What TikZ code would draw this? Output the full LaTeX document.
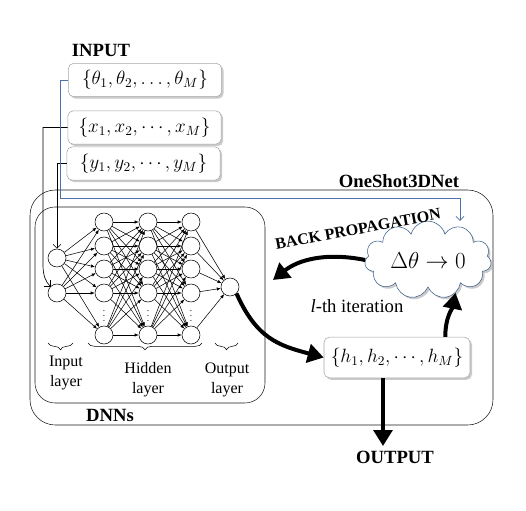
\documentclass[tikz,border=0pt]{standalone}
\usepackage{fontspec}
\setmainfont{Liberation Serif}
\usetikzlibrary{arrows.meta,shapes.symbols,shadows,decorations.pathreplacing,calc}
\definecolor{lineblue}{HTML}{4F6FA8}
\definecolor{cloudblue}{HTML}{385D8A}

\begin{document}
\begin{tikzpicture}[x=0.75pt,y=-0.75pt,
    inbox/.style={draw=gray!70,rounded corners=4pt,fill=white,minimum width=115pt,minimum height=25pt,
        drop shadow={shadow xshift=1.5pt,shadow yshift=-1.5pt,fill=gray!70,opacity=0.6},
        font=\fontsize{14.5}{16}\selectfont},
    neuron/.style={circle,draw,fill=white,minimum size=13.5pt,inner sep=0pt},
    nnarrow/.style={-{Latex[length=3pt,width=2.5pt]},line width=0.4pt},
    bigarrow/.style={line width=3pt,-{Triangle[length=12pt,width=14pt]}},
    thinarrow/.style={-{Straight Barb[length=3pt]},line width=0.5pt},
    layerbrace/.style={decorate,decoration={brace,mirror,amplitude=5pt}},
    layerlab/.style={align=center,font=\fontsize{12}{15}\selectfont},
    bold/.style={font=\fontsize{14}{16}\selectfont\bfseries}
    ]
    \useasboundingbox (0,0) rectangle (526,511);

    % Containers
    \draw[gray!20!black,rounded corners=19pt] (30,190) rectangle (493,425);
    \draw[gray!20!black,rounded corners=15pt] (35,207) rectangle (265,403);
    \node[bold] (netlab) at (399,181) {OneShot3DNet};
    \node[bold] (dnnlab) at (110,415) {DNNs};

    % Inputs
    \node[bold] (inlab) at (101,50) {INPUT};
    \node[inbox] (th) at (145,80) {$\{\theta_1,\theta_2,\ldots,\theta_M\}$};
    \node[inbox] (xb) at (144.5,127.5) {$\{x_1,x_2,\cdots,x_M\}$};
    \node[inbox] (yb) at (143.5,163.5) {$\{y_1,y_2,\cdots,y_M\}$};

    % Input layer
    \node[neuron] (i1) at (57,258) {};
    \node[neuron] (i2) at (57,293) {};

    % Hidden layers
    \foreach \l/\x in {1/104,2/148,3/191}{
        \foreach \k/\y in {1/222,2/246,3/269,4/293,5/335}
            \node[neuron] (h\l\k) at (\x,\y) {};
        \node[font=\scriptsize,inner sep=0pt] (d\l) at (\x,312) {$\vdots$};
    }

    % Output layer
    \node[neuron] (o) at (230,287) {};

    % Weights
    \foreach \a in {1,2}
        \foreach \b in {1,...,5}
            \draw[nnarrow] (i\a) -- (h1\b);
    \foreach \b in {1,...,5}
        \foreach \c in {1,...,5}{
            \draw[nnarrow] (h1\b) -- (h2\c);
            \draw[nnarrow] (h2\b) -- (h3\c);
        }
    \foreach \b in {1,...,5}
        \draw[nnarrow] (h3\b) -- (o);

    % Layer braces
    \draw[layerbrace] (48,343) -- (73,343);
    \draw[layerbrace] (88,343) -- (202,343);
    \draw[layerbrace] (215,343) -- (238,343);
    \node[layerlab] (inl) at (66,373) {Input\\layer};
    \node[layerlab] (hidl) at (148,380) {Hidden\\layer};
    \node[layerlab] (outl) at (227,380) {Output\\layer};

    % Input lines
    \draw[thinarrow] (xb.west) -| (43,265) .. controls +(0,10) and +(-5,-5) .. (i2.135);
    \draw[thinarrow] (yb.west) -| (i1.north);

    % Loss and output
    \node[cloud,cloud puffs=11,aspect=2.2,draw=cloudblue,fill=white,minimum width=95pt,minimum height=48pt,
        drop shadow={shadow xshift=1.5pt,shadow yshift=-1.5pt,fill=gray!70,opacity=0.6},
        font=\fontsize{17}{19}\selectfont] (cl) at (428,260) {$\Delta\theta\rightarrow 0$};
    \node[inbox,minimum width=109.5pt,minimum height=30.5pt] (hb) at (397,357.5) {$\{h_1,h_2,\cdots,h_M\}$};
    \node[bold] (outlab) at (395,457) {OUTPUT};
    \node[bold,font=\fontsize{12}{14}\selectfont\bfseries,rotate=10.5] (bplab) at (358,229) {BACK PROPAGATION};
    \node[font=\fontsize{14}{16}\selectfont] (itlab) at (357,306) {\textit{l}-th iteration};

    % Parameter line
    \draw[lineblue,line width=0.6pt,-{Straight Barb[length=3pt]}] (th.west) -| (60,198) -| ([xshift=24pt]cl.north);

    % Thick arrows
    \coordinate (bpend) at (273,280);
    \draw[bigarrow] (o.south east) .. controls +(20,45) and +(-45,-12) .. (hb.west);
    \draw[bigarrow] (cl.west) .. controls +(-40,-8) and +(25,-20) .. (bpend);
    \draw[bigarrow] ($(hb.north east)+(-25,0)$) .. controls +(0,-20) and +(-3,15) .. (cl.-50);
    \draw[bigarrow] ([xshift=-10.5pt]hb.south) -- ([xshift=-9pt]outlab.north);

\end{tikzpicture}
\end{document}
